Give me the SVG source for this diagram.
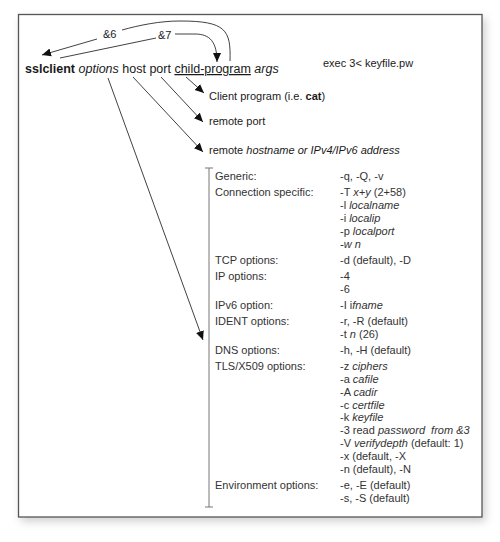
<svg xmlns="http://www.w3.org/2000/svg" width="500" height="542" viewBox="0 0 500 542">
<defs>
<marker id="ah" viewBox="0 0 10 10" refX="10" refY="5" markerWidth="9" markerHeight="9" markerUnits="userSpaceOnUse" orient="auto">
<path d="M0,0.5 L10,5 L0,9.5 z" fill="#111"/>
</marker>
<filter id="sh" x="-5%" y="-5%" width="115%" height="115%">
<feDropShadow dx="3" dy="4" stdDeviation="4" flood-color="#000" flood-opacity="0.18"/>
</filter>
</defs>
<style>
text{font-family:"Liberation Sans",Arial,sans-serif;fill:#1a1a1a;white-space:pre}
.m{font-size:12.5px}
.s{font-size:11px}
.t{font-size:11px;fill:#333}
.i{font-style:italic}
.b{font-weight:bold}
.c{fill:none;stroke:#111;stroke-width:0.8}
.br{fill:none;stroke:#777;stroke-width:1}
</style>
<g id="frame">
<rect x="18.5" y="14.5" width="463.5" height="502.5" fill="#fff" stroke="#555" stroke-width="1.3" filter="url(#sh)"/>
</g>
<g id="command">
<text class="m" x="25" y="73"><tspan class="b">sslclient</tspan> <tspan class="i">options</tspan> host port <tspan text-decoration="underline">child-program</tspan> <tspan class="i">args</tspan></text>
</g>
<g id="exec">
<text class="s" x="323" y="67">exec 3&lt; keyfile.pw</text>
</g>
<g id="client">
<text class="s" x="209" y="100">Client program (i.e. <tspan class="b">cat</tspan>)</text>
</g>
<g id="rport">
<text class="s" x="209" y="125">remote port</text>
</g>
<g id="rhost">
<text class="s" x="209" y="154">remote <tspan class="i">hostname or IPv4/IPv6 address</tspan></text>
</g>
<g id="connectors">
<path class="c" d="M230,61 C231,30 226,21 180,21 C160,21 140,25 122,30"/>
<path class="c" d="M97,39 L42,55" marker-end="url(#ah)"/>
<path class="c" d="M60,58 L156,38"/>
<path class="c" d="M175,34 L195,34 C210,34 217,42 217,62" marker-end="url(#ah)"/>
<path class="c" d="M186,77 L204,93" marker-end="url(#ah)"/>
<path class="c" d="M161,77 L203,122" marker-end="url(#ah)"/>
<path class="c" d="M133,77 L203,152" marker-end="url(#ah)"/>
<path class="c" d="M108,78 L203,340" marker-end="url(#ah)"/>
<text class="s" x="103" y="38">&amp;6</text>
<text class="s" x="158" y="39">&amp;7</text>
</g>
<g id="options">
<path class="br" d="M205,168 H213 M209,168 V507 M205,507 H213"/>
<text class="t" x="215" y="180">Generic:</text>
<text class="t" x="340" y="180">-q, -Q, -v</text>
<text class="t" x="215" y="196">Connection specific:</text>
<text class="t" x="340" y="196">-T <tspan class="i">x+y</tspan> (2+58)</text>
<text class="t" x="340" y="209">-l <tspan class="i">localname</tspan></text>
<text class="t" x="340" y="222">-i <tspan class="i">localip</tspan></text>
<text class="t" x="340" y="235">-p <tspan class="i">localport</tspan></text>
<text class="t i" x="340" y="248">-w n</text>
<text class="t" x="215" y="264">TCP options:</text>
<text class="t" x="340" y="264">-d (default), -D</text>
<text class="t" x="215" y="280">IP options:</text>
<text class="t" x="340" y="280">-4</text>
<text class="t" x="340" y="293">-6</text>
<text class="t" x="215" y="309">IPv6 option:</text>
<text class="t" x="340" y="309">-I i<tspan class="i">fname</tspan></text>
<text class="t" x="215" y="325">IDENT options:</text>
<text class="t" x="340" y="325">-r, -R (default)</text>
<text class="t" x="340" y="338">-t <tspan class="i">n</tspan> (26)</text>
<text class="t" x="215" y="354">DNS options:</text>
<text class="t" x="340" y="354">-h, -H (default)</text>
<text class="t" x="215" y="370">TLS/X509 options:</text>
<text class="t" x="340" y="370">-z <tspan class="i">ciphers</tspan></text>
<text class="t" x="340" y="383">-a <tspan class="i">cafile</tspan></text>
<text class="t" x="340" y="396">-A <tspan class="i">cadir</tspan></text>
<text class="t" x="340" y="408.5">-c <tspan class="i">certfile</tspan></text>
<text class="t" x="340" y="421">-k <tspan class="i">keyfile</tspan></text>
<text class="t" x="340" y="434">-3 read <tspan class="i">password  from &amp;3</tspan></text>
<text class="t" x="340" y="447">-V <tspan class="i">verifydepth</tspan> (default: 1)</text>
<text class="t" x="340" y="460">-x (default, -X</text>
<text class="t" x="340" y="472.5">-n (default), -N</text>
<text class="t" x="215" y="489">Environment options:</text>
<text class="t" x="340" y="489">-e, -E (default)</text>
<text class="t" x="340" y="502">-s, -S (default)</text>
</g>
</svg>
